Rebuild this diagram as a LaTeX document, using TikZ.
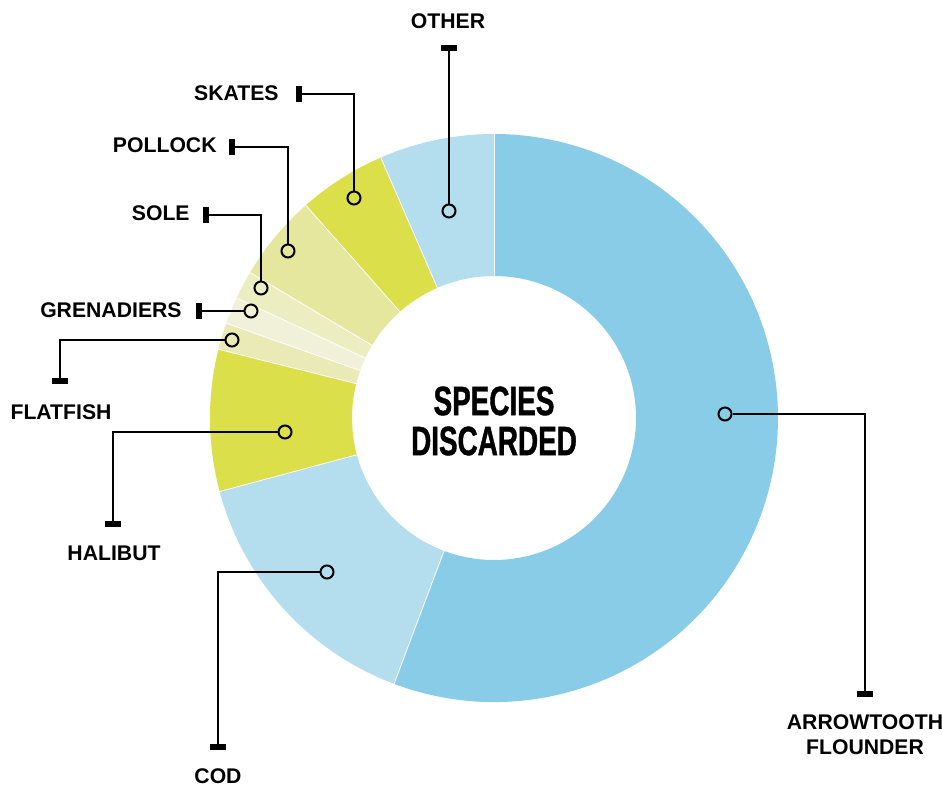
\documentclass[tikz,border=0pt]{standalone}
\usepackage{fontspec}
\setmainfont{Liberation Sans}
\newfontfamily\condfont{Liberation Sans}[FakeStretch=0.68, FakeBold=1]
\usetikzlibrary{arrows.meta}

\definecolor{flounderblue}{HTML}{88CCE8}
\definecolor{paleblue}{HTML}{B4DDEE}
\definecolor{skateyellow}{HTML}{DADF4A}
\definecolor{pollockgreen}{HTML}{E5E79F}
\definecolor{solecream}{HTML}{ECEDC0}
\definecolor{grenadiercream}{HTML}{F1F1DA}
\definecolor{flatfishcream}{HTML}{E9EAB6}

\tikzset{
	dot/.style={circle, draw, line width=1pt, minimum size=6.5pt, inner sep=0pt},
	leader/.style={line width=1pt, -{Rectangle[length=3pt, width=8pt]}},
	lbl/.style={font=\bfseries\fontsize{10.6}{12.5}\selectfont, inner sep=0pt, align=center},
}

\begin{document}
\begin{tikzpicture}[x=0.5pt, y=-0.5pt]
		\fill[white] (0,0) rectangle (942,789);
		\useasboundingbox (0,0) rectangle (942,789);
		
		% Ring
		\begin{scope}[shift={(494,418)}]
			\foreach \a/\b/\col in {-90/110.6/flounderblue, 110.6/165/paleblue, 165/194/skateyellow, 194/199.5/flatfishcream, 199.5/205/grenadiercream, 205/210.8/solecream, 210.8/228.5/pollockgreen, 228.5/246.5/skateyellow, 246.5/270/paleblue} {
				\fill[\col] (\a:142) arc[start angle=\a, end angle=\b, radius=142] -- (\b:284) arc[start angle=\b, end angle=\a, radius=284] -- cycle;
				\draw[white, line width=0.4pt] (\a:142) -- (\a:284);
			}
		\end{scope}
		
		% Title
		\node[align=center, inner sep=0pt, font=\condfont\bfseries\fontsize{20.5}{20}\selectfont] (title) at (494,421) {SPECIES\\DISCARDED};
		
		% Dots
		\foreach \name/\x/\y in {other/449/211, skates/354/198, pollock/288/251, sole/261/288, grenadiers/251/311, flatfish/232/340, halibut/285/432, cod/327/572, arrowtooth/725/414} {
			\node[dot] (dot\name) at (\x,\y) {};
		}
		
		% Ticks
		\coordinate (tickother) at (449,45);
		\coordinate (tickskates) at (296,94);
		\coordinate (tickpollock) at (229,147);
		\coordinate (ticksole) at (203,215);
		\coordinate (tickgrenadiers) at (196,311);
		\coordinate (tickflatfish) at (60,384);
		\coordinate (tickhalibut) at (113,527);
		\coordinate (tickcod) at (218,750);
		\coordinate (tickarrowtooth) at (865,697);
		
		% Leaders
		\draw[leader] (dotother) -- (tickother);
		\draw[leader] (dotskates) |- (tickskates);
		\draw[leader] (dotpollock) |- (tickpollock);
		\draw[leader] (dotsole) |- (ticksole);
		\draw[leader] (dotgrenadiers) -- (tickgrenadiers);
		\draw[leader] (dotflatfish) -| (tickflatfish);
		\draw[leader] (dothalibut) -| (tickhalibut);
		\draw[leader] (dotcod) -| (tickcod);
		\draw[leader] (dotarrowtooth) -| (tickarrowtooth);
		
		% Labels
		\node[lbl] (labother) at (448,21) {OTHER};
		\node[lbl, anchor=east] (labskates) at (279,93) {SKATES};
		\node[lbl, anchor=east] (labpollock) at (217,145) {POLLOCK};
		\node[lbl, anchor=east] (labsole) at (190,213) {SOLE};
		\node[lbl, anchor=east] (labgrenadiers) at (182,310) {GRENADIERS};
		\node[lbl] (labflatfish) at (61,412) {FLATFISH};
		\node[lbl] (labhalibut) at (114,553) {HALIBUT};
		\node[lbl] (labcod) at (218,776) {COD};
		\node[lbl] (labarrowtooth) at (865,735) {ARROWTOOTH\\FLOUNDER};
	\end{tikzpicture}
\end{document}
